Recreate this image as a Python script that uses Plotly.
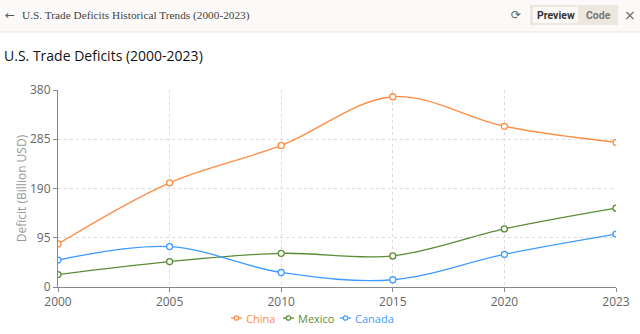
import plotly.graph_objects as go

years = ["2000", "2005", "2010", "2015", "2020", "2023"]
china = [83, 201, 273, 367, 310, 279]
mexico = [24, 49, 65, 60, 112, 152]
canada = [52, 78, 28, 14, 63, 102]
y_ticks = [0, 95, 190, 285, 380]

series = [("China", china, "#ff8c42"), ("Mexico", mexico, "#5b8c35"), ("Canada", canada, "#3f9bff")]

# plot area in pixels
L, R, T, B = 58, 616, 90, 287
W, H = 640, 334

def px(x):
    return (x - L) / (R - L)

def py(y):
    return (B - y) / (B - T)

fig = go.Figure()
for name, vals, col in series:
    fig.add_trace(go.Scatter(
        x=years, y=vals, name=name, showlegend=False,
        mode="lines+markers",
        line=dict(color=col, width=1.3, shape="spline", smoothing=1.0),
        marker=dict(symbol="circle", size=6, color="white", line=dict(color=col, width=1.3)),
    ))

font = "Open Sans, Noto Sans, sans-serif"
fig.update_layout(
    width=W, height=H,
    margin=dict(l=L, r=W - R, t=T, b=H - B, autoexpand=False),
    paper_bgcolor="white", plot_bgcolor="white",
    font=dict(family=font, size=12, color="#666"),
    xaxis=dict(type="category", range=[0, 5], showgrid=True, gridcolor="#dcdcdc", griddash="dot",
               gridwidth=1, showline=True, linecolor="#888", linewidth=1, ticks="outside",
               ticklen=4, tickcolor="#888", tickfont=dict(size=12, color="#666"), zeroline=False,
               fixedrange=True),
    yaxis=dict(range=[0, 380], tickvals=y_ticks, showgrid=True, gridcolor="#dcdcdc", griddash="dot",
               gridwidth=1, showline=True, linecolor="#888", linewidth=1, ticks="outside",
               ticklen=4, tickcolor="#888", tickfont=dict(size=12, color="#666"), zeroline=False,
               title=dict(text="Deficit (Billion USD)", font=dict(size=12, color="#999"), standoff=0),
               fixedrange=True),
)

shapes = [
    # top bar background
    dict(type="rect", xref="paper", yref="paper", x0=px(0), x1=px(W), y0=py(32), y1=py(0),
         fillcolor="#fbfaf8", line=dict(width=0), layer="below"),
    dict(type="line", xref="paper", yref="paper", x0=px(0), x1=px(W), y0=py(32), y1=py(32),
         line=dict(color="#ece9e3", width=1)),
    # toggle pill
    dict(type="rect", xref="paper", yref="paper", x0=px(530), x1=px(618), y0=py(25), y1=py(5),
         fillcolor="#ece8df", line=dict(width=0)),
    dict(type="rect", xref="paper", yref="paper", x0=px(533), x1=px(578), y0=py(23), y1=py(7),
         fillcolor="#faf9f6", line=dict(width=0)),
]

ann = [
    dict(text="←", x=px(3), y=py(15), xanchor="left", yanchor="middle",
         font=dict(size=12, color="#555", family="DejaVu Sans")),
    dict(text="U.S. Trade Deficits Historical Trends (2000-2023)", x=px(20), y=py(15),
         xanchor="left", yanchor="middle", font=dict(size=11.3, color="#444", family="Liberation Serif, serif")),
    dict(text="⟳", x=px(516), y=py(15), xanchor="center", yanchor="middle",
         font=dict(size=12, color="#666", family="DejaVu Sans")),
    dict(text="<b>Preview</b>", x=px(555.5), y=py(15), xanchor="center", yanchor="middle",
         font=dict(size=10.5, color="#333", family="Roboto, sans-serif")),
    dict(text="<b>Code</b>", x=px(598), y=py(15), xanchor="center", yanchor="middle",
         font=dict(size=10.5, color="#777", family="Roboto, sans-serif")),
    dict(text="×", x=px(630), y=py(15), xanchor="center", yanchor="middle",
         font=dict(size=14, color="#666", family="DejaVu Sans")),
    dict(text="U.S. Trade Deficits (2000-2023)", x=px(2), y=py(55), xanchor="left", yanchor="middle",
         font=dict(size=14, color="#111", family=font)),
]

# custom compact legend
leg_y = 318
leg_x = [231, 283, 340]
for (name, vals, col), lx in zip(series, leg_x):
    shapes.append(dict(type="line", xref="paper", yref="paper", x0=px(lx), x1=px(lx + 11),
                       y0=py(leg_y), y1=py(leg_y), line=dict(color=col, width=1.3)))
    shapes.append(dict(type="circle", xref="paper", yref="paper", x0=px(lx + 3.3), x1=px(lx + 7.7),
                       y0=py(leg_y + 2.2), y1=py(leg_y - 2.2), fillcolor="white",
                       line=dict(color=col, width=1.2)))
    ann.append(dict(text=name, x=px(lx + 13), y=py(leg_y), xanchor="left", yanchor="middle",
                    font=dict(size=11, color=col, family=font)))

for a in ann:
    a.update(xref="paper", yref="paper", showarrow=False)
fig.update_layout(shapes=shapes, annotations=ann)

fig.write_html("out.html", config=dict(displayModeBar=False))
